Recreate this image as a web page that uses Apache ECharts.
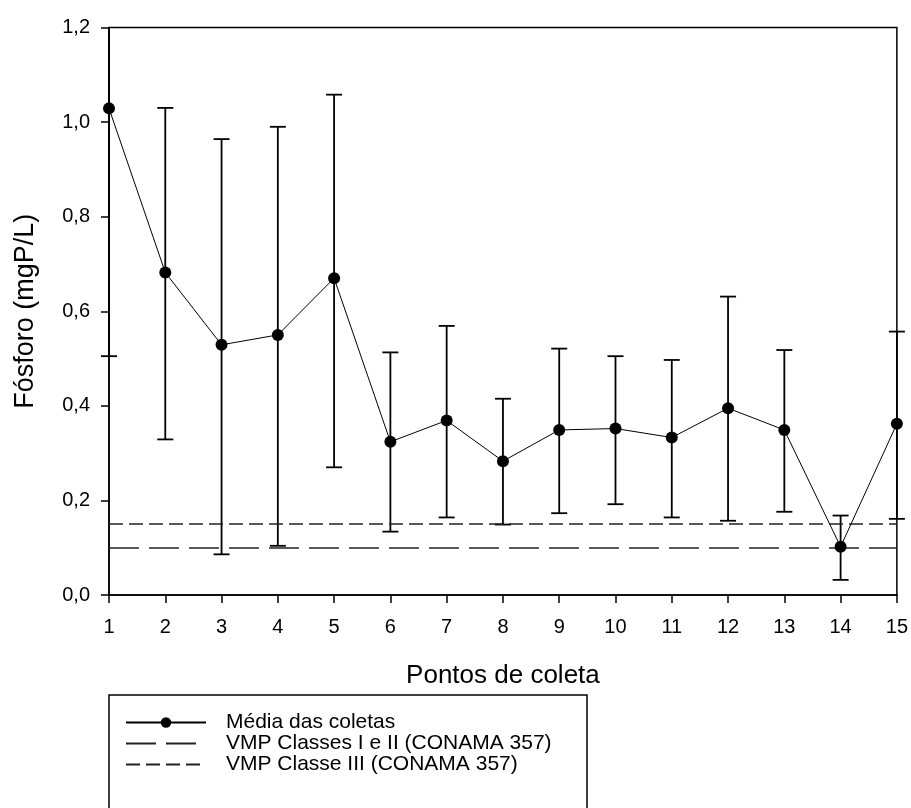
<!DOCTYPE html>
<html>
<head>
<meta charset="utf-8">
<script src="https://cdn.jsdelivr.net/npm/echarts@6/dist/echarts.min.js"></script>
<style>
  html, body { margin: 0; padding: 0; background: #fff; }
  #chart { width: 911px; height: 808px; }
</style>
</head>
<body>
<div id="chart"></div>
<script>
// Sampling points along the watercourse
const categories = ['1', '2', '3', '4', '5', '6', '7', '8', '9', '10', '11', '12', '13', '14', '15'];

// Mean total phosphorus per point (mgP/L)
const meanValues = [1.029, 0.682, 0.529, 0.550, 0.670, 0.324, 0.369, 0.283, 0.349, 0.352, 0.333, 0.395, 0.349, 0.102, 0.362];

// Error bar bounds (mean ± deviation)
const lowerValues = [0.505, 0.329, 0.086, 0.104, 0.270, 0.134, 0.164, 0.149, 0.173, 0.192, 0.164, 0.157, 0.176, 0.032, 0.161];
const upperValues = [1.553, 1.030, 0.964, 0.990, 1.058, 0.513, 0.569, 0.415, 0.521, 0.505, 0.497, 0.631, 0.518, 0.168, 0.557];

// Maximum allowed values, CONAMA 357
const limitClassesIandII = 0.1;
const limitClassIII = 0.15;

// Y axis ticks
const yTicks = [0, 0.2, 0.4, 0.6, 0.8, 1.0, 1.2];

const FONT = "'Liberation Sans', Arial, sans-serif";
const LONG_DASH = [30, 10];
const SHORT_DASH = [14, 6];

const errorData = categories.map((c, i) => [i, lowerValues[i], upperValues[i]]);

const chart = echarts.init(document.getElementById('chart'), null, { renderer: 'canvas' });

// legend entries for the reference lines: line only, no marker
const hiddenMarker = { color: 'rgba(0,0,0,0)', borderWidth: 0, opacity: 0 };

chart.setOption({
  animation: false,
  backgroundColor: '#fff',
  textStyle: { fontFamily: FONT, color: '#000' },
  grid: {
    left: 109, right: 14, top: 27.5, bottom: 213,
    show: true, borderColor: '#000', borderWidth: 1.5
  },
  // frame around the legend
  graphic: [{
    type: 'rect',
    silent: true,
    shape: { x: 109, y: 695, width: 478, height: 160 },
    style: { fill: null, stroke: '#000', lineWidth: 1.5 }
  }],
  legend: {
    orient: 'vertical',
    left: 109, top: 695,
    data: [
      { name: 'Média das coletas' },
      { name: 'VMP Classes I e II (CONAMA 357)', itemStyle: hiddenMarker },
      { name: 'VMP Classe III (CONAMA 357)', itemStyle: hiddenMarker }
    ],
    itemWidth: 80, itemHeight: 13, itemGap: 0,
    padding: [17, 25, 10, 16],
    selectedMode: false,
    textStyle: { fontFamily: FONT, fontSize: 21, color: '#000', lineHeight: 20, padding: [0, 0, 0, 15] }
  },
  xAxis: {
    type: 'category',
    data: categories,
    boundaryGap: false,
    name: 'Pontos de coleta',
    nameLocation: 'middle',
    nameGap: 68,
    nameTextStyle: { fontFamily: FONT, fontSize: 26, color: '#000' },
    axisLine: { lineStyle: { color: '#000', width: 1.5 } },
    axisTick: { show: true, inside: false, length: 8, alignWithLabel: true, lineStyle: { color: '#000', width: 1.5 } },
    axisLabel: { fontFamily: FONT, fontSize: 20, color: '#000', margin: 22 },
    splitLine: { show: false }
  },
  yAxis: {
    type: 'value',
    min: yTicks[0], max: yTicks[yTicks.length - 1], interval: 0.2,
    name: 'Fósforo (mgP/L)',
    nameLocation: 'middle',
    nameGap: 70,
    nameTextStyle: { fontFamily: FONT, fontSize: 27, color: '#000' },
    axisLine: { show: true, lineStyle: { color: '#000', width: 1.5 } },
    axisTick: { show: true, inside: false, length: 8, lineStyle: { color: '#000', width: 1.5 } },
    axisLabel: {
      fontFamily: FONT, fontSize: 20, color: '#000', margin: 19,
      formatter: v => v.toFixed(1).replace('.', ',')
    },
    splitLine: { show: false }
  },
  series: [
    {
      name: 'Erro',
      type: 'custom',
      data: errorData,
      encode: { x: 0, y: [1, 2] },
      z: 2,
      renderItem: function (params, api) {
        const cs = params.coordSys;
        const idx = api.value(0);
        const lo = api.coord([idx, api.value(1)]);
        const hi = api.coord([idx, api.value(2)]);
        const top = cs.y, bottom = cs.y + cs.height;
        const capHalf = 8;
        const children = [];
        const yHi = Math.max(hi[1], top);
        const yLo = Math.min(lo[1], bottom);
        const style = { stroke: '#000', lineWidth: 1.8, fill: null };
        children.push({ type: 'line', shape: { x1: lo[0], y1: yLo, x2: hi[0], y2: yHi }, style: style });
        if (hi[1] >= top) {
          children.push({ type: 'line', shape: { x1: hi[0] - capHalf, y1: hi[1], x2: hi[0] + capHalf, y2: hi[1] }, style: style });
        }
        if (lo[1] <= bottom) {
          children.push({ type: 'line', shape: { x1: lo[0] - capHalf, y1: lo[1], x2: lo[0] + capHalf, y2: lo[1] }, style: style });
        }
        return { type: 'group', children: children };
      }
    },
    {
      name: 'Média das coletas',
      type: 'line',
      data: meanValues,
      z: 5,
      symbol: 'circle',
      symbolSize: 12,
      showSymbol: true,
      lineStyle: { color: '#000', width: 1 },
      itemStyle: { color: '#000' }
    },
    {
      name: 'VMP Classes I e II (CONAMA 357)',
      type: 'line',
      data: [],
      symbol: 'none',
      lineStyle: { color: '#222', width: 1.6, type: LONG_DASH },
      itemStyle: { color: '#222' },
      markLine: {
        silent: true,
        symbol: 'none',
        label: { show: false },
        lineStyle: { color: '#222', width: 1.6, type: LONG_DASH },
        data: [{ yAxis: limitClassesIandII }]
      }
    },
    {
      name: 'VMP Classe III (CONAMA 357)',
      type: 'line',
      data: [],
      symbol: 'none',
      lineStyle: { color: '#222', width: 1.6, type: SHORT_DASH },
      itemStyle: { color: '#222' },
      markLine: {
        silent: true,
        symbol: 'none',
        label: { show: false },
        lineStyle: { color: '#222', width: 1.6, type: SHORT_DASH },
        data: [{ yAxis: limitClassIII }]
      }
    }
  ]
});
</script>
</body>
</html>
